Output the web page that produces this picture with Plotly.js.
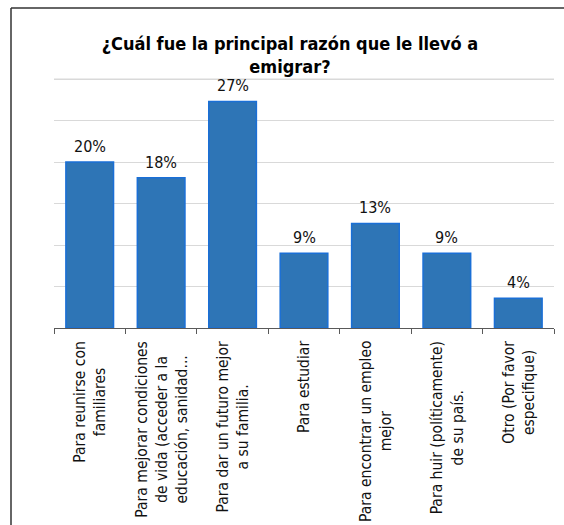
<!DOCTYPE html>
<html>
<head>
<meta charset="utf-8">
<script src="https://cdn.plot.ly/plotly-3.0.1.min.js"></script>
<style>
html,body{margin:0;padding:0;background:#fff;}
#chart{width:564px;height:525px;}
</style>
</head>
<body>
<div id="chart"></div>
<script>
const categories = [
  "Para reunirse con<br>familiares",
  "Para mejorar condiciones<br>de vida (acceder a la<br>educación, sanidad...",
  "Para dar un futuro mejor<br>a su familia.",
  "Para estudiar",
  "Para encontrar un empleo<br>mejor",
  "Para huir (políticamente)<br>de su país.",
  "Otro (Por favor<br>especifique)"
];
const values = [20.0, 18.1, 27.3, 9.0, 12.6, 9.0, 3.6];
const valueLabels = ["20%", "18%", "27%", "9%", "13%", "9%", "4%"];
const titleText = "¿Cuál fue la principal razón que le llevó a<br>emigrar?";
const yMax = 30;

const W = 564, H = 525;
const margin = {l: 54, r: 10, t: 77, b: 197};
const plotW = W - margin.l - margin.r;
const plotH = H - margin.t - margin.b;
const px2x = p => (p - margin.l) / plotW;
const px2y = p => (H - margin.b - p) / plotH;

const trace = {
  type: 'bar',
  x: categories,
  y: values,
  marker: {color: '#2e75b6', line: {color: '#1a6fd6', width: 1.5}},
  hoverinfo: 'none'
};

const annotations = [];
categories.forEach((c, i) => {
  annotations.push({
    x: c, xref: 'x', y: values[i], yref: 'y',
    yanchor: 'bottom', xanchor: 'center', yshift: 4,
    text: valueLabels[i], showarrow: false,
    font: {family: 'DejaVu Sans Condensed, DejaVu Sans, sans-serif', size: 16, color: '#111111'}
  });
  annotations.push({
    x: c, xref: 'x', y: px2y(339), yref: 'paper',
    yanchor: 'top', xanchor: 'center', textangle: -90, align: 'center',
    text: c, showarrow: false,
    font: {family: 'DejaVu Sans Condensed, DejaVu Sans, sans-serif', size: 15.5, color: '#111111'}
  });
});

const layout = {
  width: W, height: H,
  margin: margin,
  paper_bgcolor: '#ffffff', plot_bgcolor: '#ffffff',
  showlegend: false,
  bargap: 0.333,
  title: {
    text: titleText,
    x: 290 / W, xanchor: 'center', xref: 'container',
    y: 1 - 50 / H, yanchor: 'top', yref: 'container',
    font: {family: 'DejaVu Sans Condensed, DejaVu Sans, sans-serif', size: 18, color: '#000000', weight: 'bold'}
  },
  xaxis: {
    type: 'category',
    showticklabels: false,
    ticks: 'outside', tickson: 'boundaries', ticklen: 5, tickcolor: '#595959', tickwidth: 1,
    showline: true, linecolor: '#595959', linewidth: 1,
    showgrid: false, zeroline: false, fixedrange: true
  },
  yaxis: {
    range: [0, yMax + 0.25], dtick: 5,
    showticklabels: false, ticks: '',
    showgrid: true, gridcolor: '#d9d9d9', gridwidth: 1,
    zeroline: false, showline: false, fixedrange: true
  },
  annotations: annotations,
  shapes: [
    {type: 'line', xref: 'paper', yref: 'y', x0: 0, x1: 1, y0: yMax, y1: yMax, layer: 'below',
     line: {color: '#d4d4d4', width: 1}},
    {type: 'line', xref: 'paper', yref: 'paper', x0: px2x(11), x1: px2x(11), y0: px2y(8), y1: px2y(530),
     line: {color: '#333333', width: 1.5}},
    {type: 'line', xref: 'paper', yref: 'paper', x0: px2x(11), x1: px2x(570), y0: px2y(8), y1: px2y(8),
     line: {color: '#333333', width: 1.5}}
  ]
};

Plotly.newPlot('chart', [trace], layout, {displayModeBar: false, staticPlot: true});
</script>
</body>
</html>
